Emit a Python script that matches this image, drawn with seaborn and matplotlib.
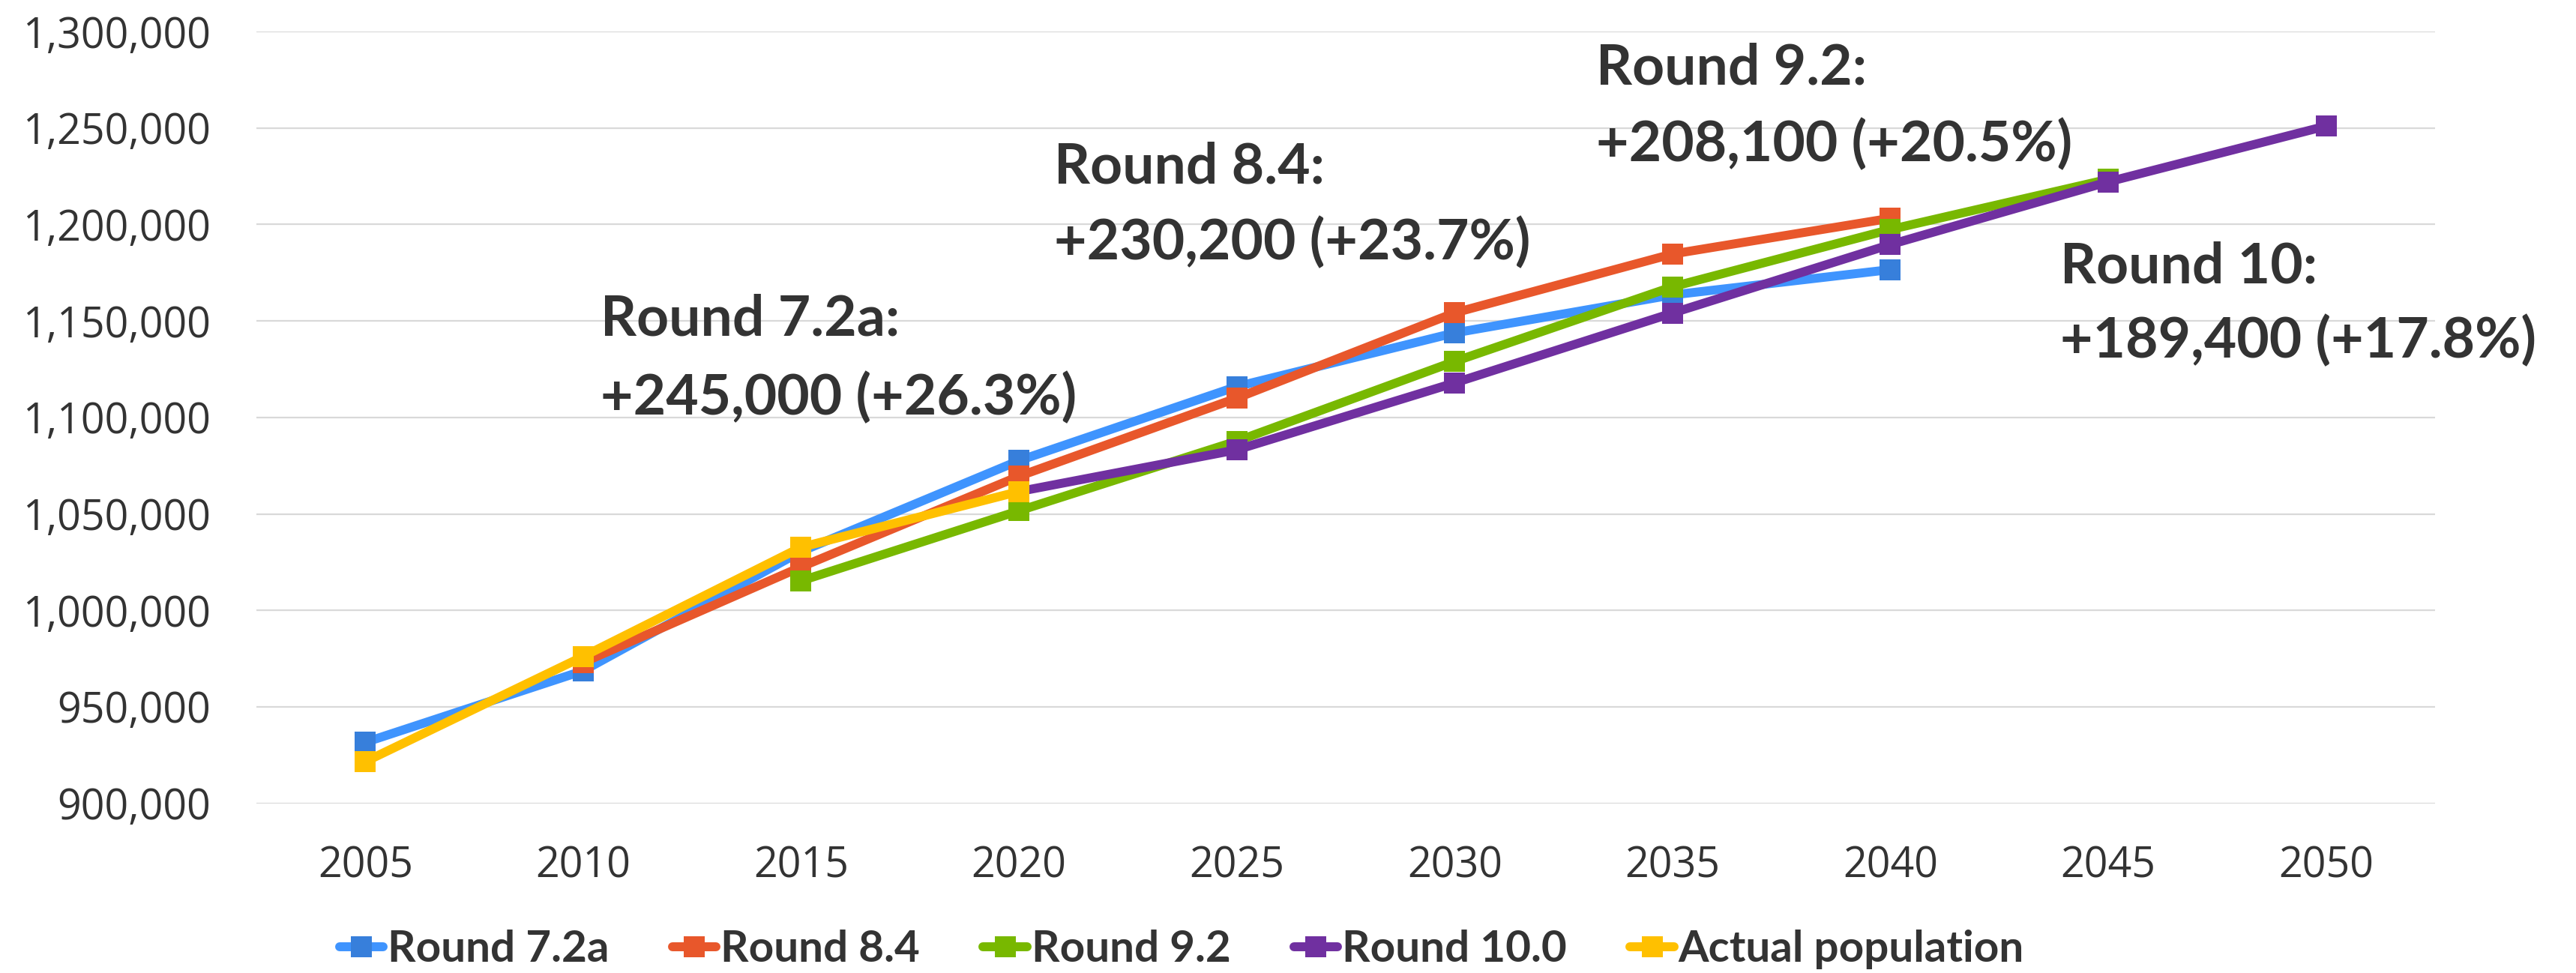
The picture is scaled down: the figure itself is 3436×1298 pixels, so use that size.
import matplotlib
matplotlib.use("Agg")
import matplotlib.pyplot as plt
import matplotlib.ticker as mticker
import seaborn as sns

# ─── Datos ────────────────────────────────────────────────────────────────────

ANIOS = [2005, 2010, 2015, 2020, 2025, 2030, 2035, 2040, 2045, 2050]

R72A_ANIOS = [2005, 2010, 2015, 2020, 2025, 2030, 2035, 2040]
R72A = [931600, 968700, 1030500, 1077600, 1116000, 1143800, 1163500, 1176600]

R84_ANIOS = [2010, 2015, 2020, 2025, 2030, 2035, 2040]
R84 = [973000, 1022500, 1069500, 1110000, 1154200, 1184700, 1203200]

R92_ANIOS = [2015, 2020, 2025, 2030, 2035, 2040, 2045]
R92 = [1015300, 1051600, 1087700, 1129000, 1167700, 1197400, 1223400]

R100_ANIOS = [2020, 2025, 2030, 2035, 2040, 2045, 2050]
R100 = [1061600, 1083200, 1117900, 1154100, 1189600, 1222100, 1251000]

REAL_ANIOS = [2005, 2010, 2015, 2020]
REAL = [921600, 976100, 1032700, 1061600]

NOMBRES = ["Round 7.2a", "Round 8.4", "Round 9.2", "Round 10.0", "Actual population"]

NOTAS = [
    ("Round 7.2a:", "+245,000 (+26.3%)"),
    ("Round 8.4:", "+230,200 (+23.7%)"),
    ("Round 9.2:", "+208,100 (+20.5%)"),
    ("Round 10:", "+189,400 (+17.8%)"),
]

# ─── Estilo ───────────────────────────────────────────────────────────────────

LINEA = ["#3F94FE", "#E8572B", "#78B800", "#7030A0", "#FFC000"]
MARCA = ["#377FDB", "#E8572B", "#78B800", "#7030A0", "#FFC000"]
GRIS = "#333333"

sns.set_theme(style="white")
plt.rcParams.update({
    "font.family": ["Open Sans", "DejaVu Sans"],
    "axes.spines.top": False,
    "axes.spines.right": False,
    "axes.spines.left": False,
    "axes.spines.bottom": False,
})

fig = plt.figure(figsize=(34.37, 12.98), dpi=100)
ax = fig.add_axes([0.0995, 0.1744, 0.8455, 0.7932])

series = [
    (R72A_ANIOS, R72A),
    (R84_ANIOS, R84),
    (R92_ANIOS, R92),
    (R100_ANIOS, R100),
    (REAL_ANIOS, REAL),
]
for i, (xs, ys) in enumerate(series):
    sns.lineplot(x=xs, y=ys, ax=ax, color=LINEA[i], linewidth=8.6,
                 marker="s", markersize=19.5,
                 markerfacecolor=MARCA[i], markeredgecolor=MARCA[i],
                 markeredgewidth=0, solid_joinstyle="round",
                 solid_capstyle="round", label=NOMBRES[i], zorder=3 + i)

ax.set_xlim(2002.5, 2052.5)
ax.set_ylim(900000, 1300000)
ax.set_xticks(ANIOS)
ax.set_xticklabels([str(a) for a in ANIOS])
ax.yaxis.set_major_locator(mticker.MultipleLocator(50000))
ax.yaxis.set_major_formatter(mticker.FuncFormatter(lambda v, _: f"{v:,.0f}"))
ax.grid(axis="y", color="#D9D9D9", linewidth=1.6)
ax.grid(axis="x", visible=False)
ax.tick_params(axis="both", length=0, labelsize=40, colors=GRIS)
ax.tick_params(axis="x", pad=40)
ax.tick_params(axis="y", pad=44)
ax.set_xlabel("")
ax.set_ylabel("")

# Anotaciones de crecimiento (dos líneas, alineadas a la izquierda)
pos_notas = [
    (2010.4, 1142300, 1101500),
    (2020.8, 1221200, 1181900),
    (2033.25, 1272500, 1232900),
    (2043.9, 1169500, 1131000),
]
for (l1, l2), (x, y1, y2) in zip(NOTAS, pos_notas):
    for txt, y in ((l1, y1), (l2, y2)):
        ax.text(x, y, txt, ha="left", va="baseline", fontsize=54,
                fontweight="bold", family=["Lato", "DejaVu Sans"],
                color=GRIS, zorder=10, clip_on=False)

ax.legend(loc="center", bbox_to_anchor=(0.4586, 0.024),
          bbox_transform=fig.transFigure, ncol=5, frameon=False,
          prop={"family": "Lato", "weight": "bold", "size": 42},
          handlelength=1.0, handletextpad=0.1, columnspacing=1.45,
          labelcolor=GRIS)

fig.savefig("out.png", dpi=100)
